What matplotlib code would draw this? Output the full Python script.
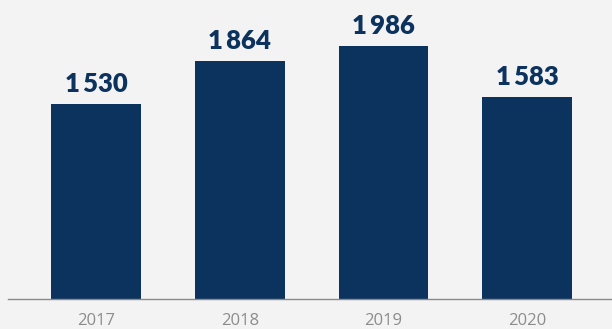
import matplotlib.pyplot as plt

years = ['2017', '2018', '2019', '2020']
values = [1530, 1864, 1986, 1583]
labels = ['1\u2009530', '1\u2009864', '1\u2009986', '1\u2009583']

bg = '#f3f3f3'
navy = '#0c335e'

fig = plt.figure(figsize=(6.12, 3.29), dpi=100, facecolor=bg)
ax = fig.add_axes([8 / 612, 30 / 329, 604 / 612, 299 / 329])
ax.set_facecolor(bg)

x = range(len(years))
ax.bar(x, values, width=0.626, color=navy)

# value labels above the bars
for xi, v, lab in zip(x, values, labels):
    ax.annotate(lab, (xi, v), xytext=(0, 5.5), textcoords='offset points',
                ha='center', va='bottom', fontsize=18.5, fontweight='heavy',
                color=navy, family=['Lato', 'DejaVu Sans'])

ax.set_xlim(-0.613, 3.59)
ax.set_ylim(0, 2343)
ax.set_xticks(list(x))
ax.set_xticklabels(years, fontsize=12, color='#8c8c8c', family=['Open Sans', 'DejaVu Sans'])
ax.tick_params(axis='x', length=0, pad=10)
ax.set_yticks([])

for s in ['top', 'right', 'left']:
    ax.spines[s].set_visible(False)
ax.spines['bottom'].set_color('#8a8a8a')
ax.spines['bottom'].set_linewidth(1)

fig.savefig('out.png', dpi=100, facecolor=bg)
